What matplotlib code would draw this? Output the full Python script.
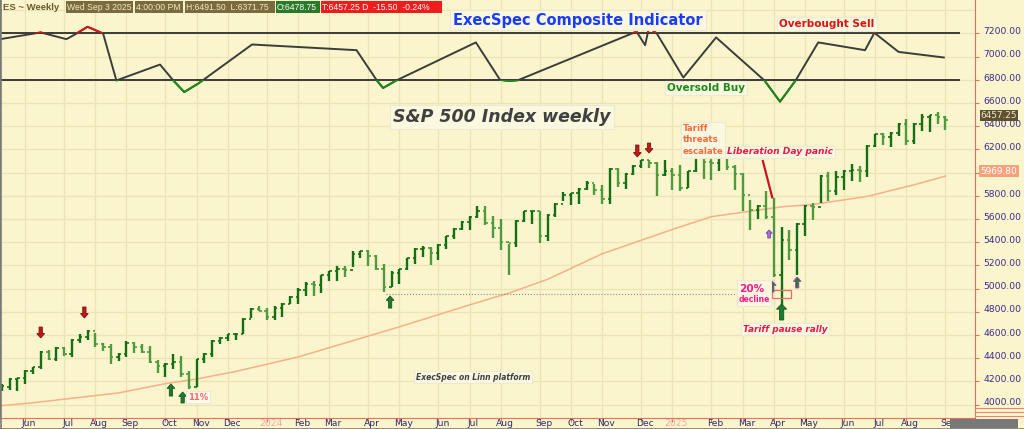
import numpy as np
import matplotlib
matplotlib.use("Agg")
import matplotlib.pyplot as plt
import matplotlib.transforms as mtransforms
from matplotlib.patches import Rectangle
from matplotlib.lines import Line2D

# weekly ES bars, week ending Fridays from 2023-05-12
week_end = np.datetime64("2023-05-12") + 7 * np.arange(122)

highs = [4177, 4226, 4226, 4298, 4327, 4462, 4471, 4500, 4494, 4566,
         4610, 4639, 4621, 4529, 4520, 4442, 4549, 4535, 4523, 4506,
         4385, 4362, 4437, 4422, 4292, 4394, 4442, 4558, 4581, 4610,
         4616, 4745, 4831, 4846, 4831, 4846, 4875, 4938, 5004, 5053,
         5062, 5120, 5154, 5192, 5192, 5327, 5327, 5336, 5287, 5215,
         5149, 5169, 5264, 5350, 5370, 5359, 5385, 5457, 5523, 5587,
         5630, 5710, 5715, 5628, 5599, 5386, 5588, 5672, 5672, 5672,
         5643, 5738, 5833, 5824, 5868, 5925, 5905, 5896, 6040, 6040,
         5997, 6063, 6112, 6107, 6089, 6107, 6040, 6069, 6017, 6164,
         6147, 6127, 6140, 6166, 6068, 5996, 5760, 5723, 5838, 5780,
         5530, 5501, 5565, 5723, 5738, 5982, 6002, 6011, 6025, 6077,
         6060, 6241, 6336, 6342, 6348, 6428, 6463, 6428, 6509, 6500,
         6520, 6491.5]
lows = [4119, 4125, 4119, 4177, 4263, 4304, 4385, 4371, 4419, 4414,
        4529, 4558, 4494, 4465, 4350, 4371, 4414, 4442, 4448, 4356,
        4275, 4235, 4304, 4241, 4131, 4148, 4356, 4408, 4523, 4552,
        4558, 4605, 4744, 4803, 4730, 4730, 4754, 4869, 4869, 4938,
        4938, 4961, 5062, 5062, 5100, 5186, 5264, 5192, 5157, 4967,
        5013, 5042, 5157, 5215, 5272, 5206, 5244, 5342, 5428, 5509,
        5503, 5608, 5551, 5435, 5335, 5119, 5358, 5571, 5559, 5392,
        5406, 5617, 5752, 5723, 5732, 5847, 5804, 5732, 5732, 5876,
        5859, 5983, 6040, 6040, 5801, 5969, 5853, 5845, 5868, 6003,
        5945, 5939, 6011, 6020, 5846, 5673, 5507, 5599, 5599, 5104,
        4835, 5248, 5118, 5450, 5594, 5738, 5752, 5810, 5852, 5924,
        5916, 5961, 6221, 6241, 6221, 6319, 6241, 6250, 6357, 6348,
        6423, 6371.75]
opens = [4150, 4155, 4220, 4225, 4292, 4320, 4455, 4395, 4490, 4435,
         4555, 4585, 4630, 4520, 4500, 4410, 4435, 4530, 4500, 4455,
         4365, 4330, 4350, 4370, 4265, 4150, 4390, 4435, 4550, 4575,
         4605, 4610, 4735, 4820, 4810, 4755, 4830, 4870, 4925, 4990,
         5040, 5030, 5115, 5150, 5170, 5160, 5300, 5320, 5280, 5170,
         5015, 5135, 5165, 5260, 5340, 5350, 5310, 5380, 5450, 5510,
         5570, 5620, 5670, 5565, 5520, 5400, 5390, 5580, 5665, 5670,
         5450, 5635, 5730, 5805, 5820, 5860, 5910, 5850, 5770, 6030,
         5910, 5990, 6060, 6105, 6080, 5980, 6010, 5980, 5870, 6010,
         6150, 6090, 6080, 6130, 6050, 5990, 5810, 5680, 5710, 5620,
         5120, 5420, 5330, 5560, 5710, 5700, 5975, 5845, 5960, 6015,
         6020, 6010, 6230, 6330, 6310, 6340, 6420, 6270, 6420, 6480,
         6495, 6478.75]
closes = [4160, 4220, 4225, 4292, 4320, 4455, 4395, 4490, 4435, 4555,
          4585, 4630, 4520, 4500, 4410, 4435, 4530, 4500, 4455, 4365,
          4330, 4350, 4370, 4265, 4150, 4390, 4435, 4550, 4575, 4605,
          4610, 4735, 4820, 4810, 4755, 4830, 4870, 4925, 4990, 5040,
          5030, 5115, 5150, 5170, 5160, 5300, 5320, 5280, 5170, 5015,
          5135, 5165, 5260, 5340, 5350, 5310, 5380, 5450, 5510, 5570,
          5620, 5670, 5565, 5520, 5400, 5390, 5580, 5665, 5670, 5450,
          5635, 5730, 5805, 5820, 5860, 5910, 5850, 5770, 6030, 5910,
          5990, 6060, 6105, 6080, 5980, 6010, 5980, 5870, 6010, 6150,
          6090, 6080, 6130, 6050, 5990, 5810, 5680, 5710, 5620, 5120,
          5420, 5330, 5560, 5710, 5700, 5975, 5845, 5960, 6015, 6020,
          6010, 6230, 6330, 6310, 6340, 6420, 6270, 6420, 6480, 6495,
          6480, 6457.25]

# 40-week moving average, read at a few bars
ma_idx = [0, 4, 15, 21, 25, 30, 38, 51, 61, 65, 70, 77, 86, 91, 100, 104, 111, 117, 121]
ma_val = [3990, 4015, 4100, 4180, 4220, 4285, 4410, 4670, 4880, 4960, 5080,
          5300, 5510, 5620, 5705, 5725, 5795, 5895, 5969.8]

# composite indicator (drawn on the price scale in the top band)
ind_idx = [-0.2, 5.0, 8.3, 9.4, 11.0, 13.0, 14.7, 20.3, 22.0, 23.4, 25.2, 32.1,
           45.5, 48.1, 48.9, 50.6, 60.8, 63.9, 65.1, 66.2, 81.4, 82.5, 83.0,
           84.0, 87.4, 91.6, 97.8, 99.8, 101.8, 104.7, 110.7, 111.9, 115.0, 120.8]
ind_val = [7151, 7209, 7151, 7192, 7258, 7200, 6795, 6932, 6795, 6695, 6768, 7105,
           7056, 6795, 6730, 6795, 7123, 6800, 6790, 6797, 7216, 7099, 7252,
           7200, 6820, 7166, 6795, 6612, 6795, 7123, 7056, 7206, 7041, 6993]
overbought = 7200
oversold = 6800

# signal arrows: (bar position, tail, tip)
sell_arrows = [(5.0, 4668, 4574), (10.6, 4841, 4746), (81.5, 6238, 6135), (83.0, 6255, 6169)]
buy_arrows = [(21.7, 4073, 4177), (23.2, 4013, 4108), (49.8, 4832, 4936)]
big_buy = (100.0, 4729, 4867)
purple_arrows = [(98.8, 4970, 5065), (102.0, 5005, 5100)]
small_purple = (98.4, 5436, 5505)

last_price = 6457.25
ma_last = 5969.80

BG = "#faf5cc"
GRID = "#ece3b6"
W, H = 1024, 429
NARROW = ["Liberation Sans", "DejaVu Sans"]


def px(x, y):
    return x / W, 1 - y / H


fig = plt.figure(figsize=(10.24, 4.29), dpi=100)
fig.patch.set_facecolor(BG)
ax = fig.add_axes([0, 11 / H, 975 / W, 418 / H])
ax.set_facecolor(BG)
ax.set_xlim(-0.22, 124.8)
ax.set_ylim(3883.6, 7488.8)

idx = np.arange(len(highs))
months = week_end.astype("datetime64[M]")
month_ticks = [i for i in range(1, len(idx)) if months[i] != months[i - 1]]

for v in range(4000, 7401, 200):
    ax.axhline(v, color=GRID, lw=0.9, zorder=0)
for i in month_ticks:
    ax.axvline(i, color=GRID, lw=0.9, zorder=0)

# moving average
ax.plot(ma_idx, ma_val, color="#f7b08a", lw=1.1, zorder=2)

# OHLC bars
hi = np.array(highs)
lo = np.array(lows)
op = np.array(opens)
cl = np.array(closes)
cols = np.where(cl >= op, "#157015", "#4f9a3e")
ax.vlines(idx, lo, hi, colors=cols, lw=1.7, zorder=3)
ax.hlines(op, idx - 0.32, idx, colors=cols, lw=1.2, zorder=3)
ax.hlines(cl, idx, idx + 0.32, colors=cols, lw=1.2, zorder=3)

# indicator band
ax.hlines([overbought, oversold], -0.22, 122.9, colors="#3a3a3a", lw=1.4, zorder=2)
ax.plot(ind_idx, ind_val, color="#3c3c3c", lw=1.4, zorder=3)
red = ax.plot(ind_idx, ind_val, color="#dd1111", lw=1.4, zorder=4)[0]
red.set_clip_path(Rectangle((-5, overbought), 140, 1000, transform=ax.transData))
grn = ax.plot(ind_idx, ind_val, color="#1a8a1a", lw=1.4, zorder=4)[0]
grn.set_clip_path(Rectangle((-5, 6000), 140, oversold - 6000, transform=ax.transData))

# dotted support line, 20% box and callout line
ax.hlines(4953, 49.3, 98.8, colors="#8a8a8a", lw=0.8, linestyles=":", zorder=2)
ax.add_patch(Rectangle((98.8, 4919), 2.4, 69, fill=False, ec="#e86a6a", lw=0.9, zorder=4))
ax.plot([97.6, 98.8], [6100, 5787], color="#cc1122", lw=1.6, zorder=4)


def arrow(x, tail, tip, fc, ec, w=0.42, hw=1.0, hl=38):
    ax.arrow(x, tail, 0, tip - tail, width=w, head_width=hw, head_length=hl,
             length_includes_head=True, fc=fc, ec=ec, lw=0.6, zorder=5)


for x, t, p in sell_arrows:
    arrow(x, t, p, "#c41818", "#7a1010")
for x, t, p in buy_arrows:
    arrow(x, t, p, "#1e7a2e", "#145a20")
arrow(*big_buy, "#1e7a2e", "#145a20", w=0.55, hw=1.3, hl=45)
for x, t, p in purple_arrows:
    arrow(x, t, p, "#2a7a2a", "#a040c0")
arrow(*small_purple, "#a878d8", "#7a3aa0", w=0.35, hw=0.8, hl=28)

# axes styling
ax.spines["top"].set_visible(False)
ax.spines["left"].set_color("#7a7a7a")
ax.spines["right"].set_color("#e8705a")
ax.spines["bottom"].set_color("#e8705a")
ax.yaxis.tick_right()
ytick_vals = list(range(4000, 7201, 200))
ax.set_yticks(ytick_vals)
# the 6000 label sits under the moving-average tag
ax.set_yticklabels(["" if v == 6000 else f"{v:.2f}" for v in ytick_vals])
ax.tick_params(axis="y", colors="#e8705a", labelcolor="#3a2a8a", labelsize=6.6,
               length=3, pad=3)
offset = mtransforms.ScaledTranslation(0, 2 / 72, fig.dpi_scale_trans)
for lab in ax.get_yticklabels():
    lab.set_transform(lab.get_transform() + offset)
ax.set_xticks(month_ticks)
ax.set_xticklabels([])
ax.tick_params(axis="x", colors="#e8705a", length=3)

xt = ax.get_xaxis_transform()
for i in month_ticks:
    d = months[i].astype(object)
    if d.month == 1:
        ax.text(i + 0.5, -0.013, str(d.year), transform=xt, ha="center", va="center",
                fontsize=6.6, color="#f4a6a6", clip_on=False)
    else:
        ax.text(i + 0.5, -0.013, d.strftime("%b"), transform=xt, ha="center", va="center",
                fontsize=6.6, color="#2c2c6c", clip_on=False)

# header strip
fig.text(*px(3, 7.5), "ES ~ Weekly", fontsize=6.8, fontweight="bold", color="#6b5a2a",
         ha="left", va="center", family=NARROW)
header = [("Wed Sep 3 2025", 66, 133, "#7a6a3e", "#f3ecc8"),
          ("4:00:00 PM", 135, 183, "#7a6a3e", "#f3ecc8"),
          ("H:6491.50  L:6371.75", 185, 275, "#7a6a3e", "#f3ecc8"),
          ("O:6478.75", 276, 320, "#2a7a2a", "#ffffff"),
          ("T:6457.25 D  -15.50  -0.24%", 321, 442, "#ee1c1c", "#ffffff")]
for txt, x0, x1, bg, fg in header:
    fig.patches.append(Rectangle(px(x0, 13), (x1 - x0) / W, 12 / H, transform=fig.transFigure,
                                 fc=bg, ec="none", figure=fig))
    fig.text(*px(x0 + 1, 7.5), txt, fontsize=6.2, color=fg, ha="left", va="center",
             family=NARROW)

box = dict(boxstyle="square,pad=0.2", fc="#fbf8e0", ec="#eee9d2", lw=0.8)
fig.text(*px(578, 20), "ExecSpec Composite Indicator", fontsize=10.5, fontweight="bold",
         color="#1a3cff", ha="center", va="center", bbox=box)
fig.text(*px(827, 24), "Overbought Sell", fontsize=7.5, fontweight="bold",
         color="#dd1111", ha="center", va="center", bbox=box)
fig.text(*px(706, 88), "Oversold Buy", fontsize=7.5, fontweight="bold",
         color="#1a8a1a", ha="center", va="center", bbox=box)
fig.text(*px(502, 117), "S&P 500 Index weekly", fontsize=12.5, fontweight="bold",
         style="italic", color="#404040", ha="center", va="center", bbox=box)
fig.text(*px(683, 140), "Tariff\nthreats\nescalate", fontsize=6.2, fontweight="bold",
         color="#ff6a3a", ha="left", va="center", linespacing=1.35, bbox=box)
fig.text(*px(780, 152), "Liberation Day panic", fontsize=6.6, fontweight="bold",
         style="italic", color="#e8174a", ha="center", va="center", bbox=box)
fig.patches.append(Rectangle(px(737, 306), 34 / W, 26 / H, transform=fig.transFigure,
                             fc="#fbf8e0", ec="#eee9d2", lw=0.8, figure=fig, zorder=6))
fig.text(*px(752, 289), "20%", fontsize=7.6, fontweight="bold", color="#ff1a8c",
         ha="center", va="center", zorder=7)
fig.text(*px(754, 299), "decline", fontsize=5.5, fontweight="bold", color="#ff1a8c",
         ha="center", va="center", zorder=7)
fig.text(*px(785, 329), "Tariff pause rally", fontsize=6.4, fontweight="bold",
         style="italic", color="#e8174a", ha="center", va="center", bbox=box)
fig.text(*px(473, 377), "ExecSpec on Linn platform", fontsize=5.5, fontweight="bold",
         style="italic", color="#404040", ha="center", va="center", bbox=box)
fig.text(*px(198, 397), "11%", fontsize=6.0, fontweight="bold", color="#ff6666",
         ha="center", va="center",
         bbox=dict(boxstyle="square,pad=0.2", fc="#fdfbec", ec="#eee9d2", lw=0.8))

# price tags on the right scale
fig.text(*px(999, 115.5), f"{last_price:.2f}", fontsize=6.4, color="#f0e8c8",
         ha="center", va="center",
         bbox=dict(boxstyle="square,pad=0.12", fc="#5e5030", ec="none"))
fig.text(*px(999, 171), f"{ma_last:.2f}", fontsize=6.4, color="#ffffff",
         ha="center", va="center",
         bbox=dict(boxstyle="square,pad=0.15", fc="#f7a27e", ec="none"))

# scroll bar and frame bits
fig.patches.append(Rectangle(px(950, 428), 68 / W, 9 / H, transform=fig.transFigure,
                             fc="#787878", ec="none", figure=fig))
for yy in (408, 412, 416):
    fig.lines.append(Line2D([975 / W, 1], [1 - yy / H] * 2, transform=fig.transFigure,
                            color="#f08070", lw=0.8, figure=fig))
fig.lines.append(Line2D([0.5 / W, 0.5 / W], [0, 1], transform=fig.transFigure,
                        color="#7a7a7a", lw=1.2, figure=fig))
fig.lines.append(Line2D([0, 1], [0.5 / H, 0.5 / H], transform=fig.transFigure,
                        color="#7a7a7a", lw=1.2, figure=fig))

fig.savefig("out.png", dpi=100, facecolor=BG)
